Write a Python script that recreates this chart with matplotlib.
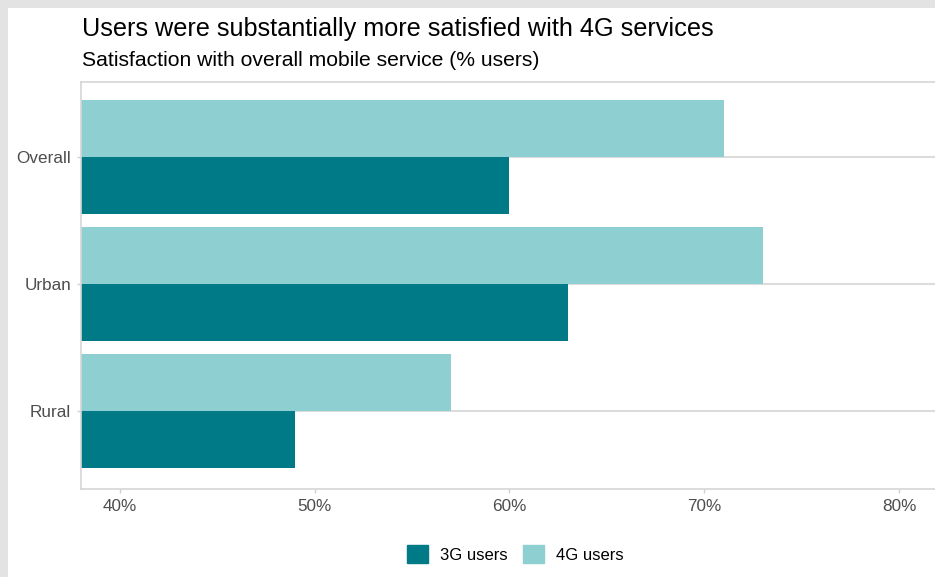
import matplotlib.pyplot as plt
import matplotlib.patches as patches
import numpy as np

plt.rcParams['font.family'] = ['Liberation Sans', 'DejaVu Sans']

# data
categories = ['Rural', 'Urban', 'Overall']
users_3g = [49, 63, 60]
users_4g = [57, 73, 71]
series_names = ['3G users', '4G users']
x_ticks = [40, 50, 60, 70, 80]
x_tick_labels = ['40%', '50%', '60%', '70%', '80%']

c3g = '#007A86'
c4g = '#8ED0D1'
grid_col = '#DCDCDC'

W, H = 935, 577
fig = plt.figure(figsize=(W / 100, H / 100), dpi=100)
fig.patch.set_facecolor('#E3E3E3')
# white card inside the grey frame
fig.add_artist(patches.Rectangle((8 / W, 0), 1, (H - 8) / H, transform=fig.transFigure,
                                 fc='white', ec='none', zorder=0))

xlim = (38.0, 84.0)
px_per_unit = 19.475
left_px, top_px, bottom_px = 81, 82, 489
width_px = (xlim[1] - xlim[0]) * px_per_unit
ax = fig.add_axes([left_px / W, 1 - bottom_px / H, width_px / W, (bottom_px - top_px) / H])
ax.set_facecolor('white')

y = np.arange(len(categories))
h = 0.45
ax.barh(y - h / 2, users_3g, height=h, color=c3g, label=series_names[0], zorder=2)
ax.barh(y + h / 2, users_4g, height=h, color=c4g, label=series_names[1], zorder=2)

ax.set_xlim(*xlim)
ax.set_ylim(-0.615, 2.59)
ax.set_yticks(y)
ax.set_yticklabels(categories)
ax.set_xticks(x_ticks)
ax.set_xticklabels(x_tick_labels)

ax.grid(axis='y', color=grid_col, linewidth=1.5, zorder=1)
ax.set_axisbelow(True)
for s in ax.spines.values():
    s.set_color('#D6D6D6')
    s.set_linewidth(1.2)
ax.tick_params(axis='both', colors='#D0D0D0', length=3, width=1, labelsize=12.3,
               labelcolor='#4D4D4D', pad=4)

fig.text(82 / W, 1 - 29 / H, 'Users were substantially more satisfied with 4G services',
         fontsize=18.2, color='black', va='center', ha='left')
fig.text(82 / W, 1 - 61 / H, 'Satisfaction with overall mobile service (% users)',
         fontsize=15.2, color='black', va='center', ha='left')

handles = [patches.Patch(color=c3g), patches.Patch(color=c4g)]
fig.legend(handles, series_names, loc='center', bbox_to_anchor=(515 / W, 1 - 554 / H),
           ncol=2, frameon=False, fontsize=12, handlelength=1.3, handleheight=1.3,
           handletextpad=0.7, columnspacing=0.9)

fig.savefig('out.png', dpi=100, facecolor=fig.get_facecolor())
